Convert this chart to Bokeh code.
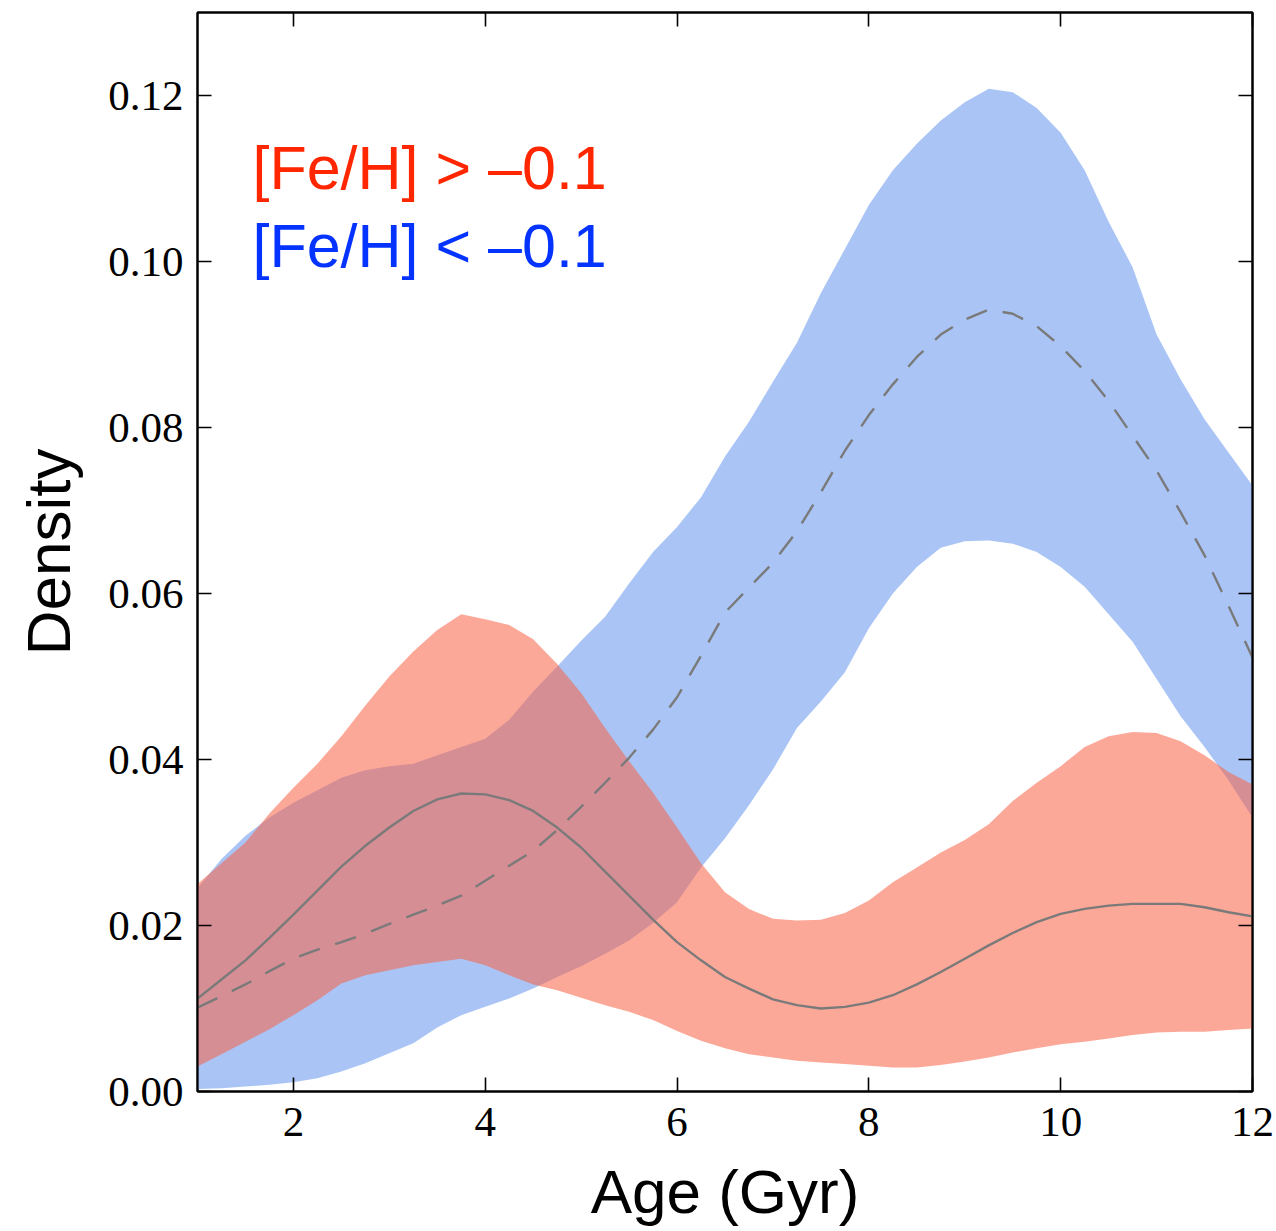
from bokeh.plotting import figure
from bokeh.models import Range1d, LinearAxis, FixedTicker, NumeralTickFormatter, Label
from bokeh.embed import file_html
from bokeh.resources import INLINE

# ---- data ----
age = [1.00, 1.25, 1.50, 1.75, 2.00, 2.25, 2.50, 2.75, 3.00, 3.25, 3.50, 3.75,
       4.00, 4.25, 4.50, 4.75, 5.00, 5.25, 5.50, 5.75, 6.00, 6.25, 6.50, 6.75,
       7.00, 7.25, 7.50, 7.75, 8.00, 8.25, 8.50, 8.75, 9.00, 9.25, 9.50, 9.75,
       10.00, 10.25, 10.50, 10.75, 11.00, 11.25, 11.50, 11.75, 12.00]

# metal-rich ([Fe/H] > -0.1): band and median
rich_upper = [0.0250, 0.0275, 0.0300, 0.0335, 0.0366, 0.0395, 0.0428, 0.0465, 0.0500, 0.0530, 0.0556, 0.0575,
              0.0569, 0.0562, 0.0545, 0.0515, 0.0480, 0.0438, 0.0398, 0.0360, 0.0318, 0.0275, 0.0240, 0.0220,
              0.0208, 0.0206, 0.0207, 0.0215, 0.0230, 0.0252, 0.0270, 0.0288, 0.0303, 0.0322, 0.0350, 0.0372,
              0.0392, 0.0415, 0.0428, 0.0433, 0.0432, 0.0422, 0.0405, 0.0385, 0.0370]
rich_lower = [0.0030, 0.0045, 0.0060, 0.0075, 0.0092, 0.0110, 0.0130, 0.0140, 0.0146, 0.0152, 0.0156, 0.0160,
              0.0152, 0.0140, 0.0129, 0.0122, 0.0113, 0.0104, 0.0096, 0.0086, 0.0073, 0.0061, 0.0052, 0.0045,
              0.0041, 0.0037, 0.0035, 0.0033, 0.0031, 0.0029, 0.0029, 0.0032, 0.0036, 0.0041, 0.0047, 0.0052,
              0.0057, 0.0060, 0.0064, 0.0068, 0.0071, 0.0072, 0.0072, 0.0074, 0.0076]
rich_mid = [0.0112, 0.0135, 0.0158, 0.0185, 0.0213, 0.0242, 0.0271, 0.0296, 0.0318, 0.0338, 0.0352, 0.0359,
            0.0358, 0.0351, 0.0338, 0.0318, 0.0294, 0.0265, 0.0236, 0.0207, 0.0180, 0.0158, 0.0138, 0.0124,
            0.0111, 0.0104, 0.0100, 0.0102, 0.0107, 0.0116, 0.0129, 0.0144, 0.0160, 0.0176, 0.0191, 0.0204,
            0.0214, 0.0220, 0.0224, 0.0226, 0.0226, 0.0226, 0.0222, 0.0216, 0.0211]

# metal-poor ([Fe/H] < -0.1): band and median
poor_upper = [0.0245, 0.0280, 0.0308, 0.0330, 0.0348, 0.0363, 0.0378, 0.0387, 0.0392, 0.0395, 0.0405, 0.0415,
              0.0425, 0.0448, 0.0482, 0.0512, 0.0543, 0.0572, 0.0612, 0.0650, 0.0680, 0.0716, 0.0765, 0.0807,
              0.0855, 0.0902, 0.0962, 0.1015, 0.1068, 0.1110, 0.1142, 0.1170, 0.1192, 0.1208, 0.1204, 0.1185,
              0.1155, 0.1110, 0.1048, 0.0993, 0.0912, 0.0858, 0.0810, 0.0770, 0.0730]
poor_lower = [0.0003, 0.0004, 0.0006, 0.0008, 0.0011, 0.0016, 0.0024, 0.0034, 0.0046, 0.0058, 0.0077, 0.0092,
              0.0102, 0.0112, 0.0124, 0.0138, 0.0151, 0.0166, 0.0182, 0.0203, 0.0228, 0.0270, 0.0305, 0.0345,
              0.0388, 0.0438, 0.0470, 0.0505, 0.0558, 0.0600, 0.0632, 0.0655, 0.0663, 0.0664, 0.0660, 0.0650,
              0.0632, 0.0608, 0.0575, 0.0542, 0.0497, 0.0452, 0.0415, 0.0375, 0.0330]
poor_mid = [0.0101, 0.0115, 0.0129, 0.0145, 0.0160, 0.0171, 0.0180, 0.0190, 0.0202, 0.0213, 0.0224, 0.0236,
            0.0254, 0.0272, 0.0290, 0.0315, 0.0343, 0.0372, 0.0402, 0.0436, 0.0475, 0.0525, 0.0577, 0.0607,
            0.0637, 0.0675, 0.0722, 0.0772, 0.0815, 0.0852, 0.0885, 0.0912, 0.0930, 0.0942, 0.0937, 0.0922,
            0.0898, 0.0868, 0.0832, 0.0790, 0.0748, 0.0698, 0.0646, 0.0585, 0.0523]

x_ticks = [2, 4, 6, 8, 10, 12]
y_ticks = [0.00, 0.02, 0.04, 0.06, 0.08, 0.10, 0.12]
label_rich = "[Fe/H] > \u20130.1"
label_poor = "[Fe/H] < \u20130.1"
x_title = "Age (Gyr)"
y_title = "Density"

# ---- figure ----
p = figure(width=1276, height=1231, x_range=Range1d(1, 12), y_range=Range1d(0, 0.13),
           output_backend="svg", toolbar_location=None,
           min_border_left=197, min_border_right=24, min_border_top=12, min_border_bottom=140)
p.xgrid.visible = False
p.ygrid.visible = False
p.outline_line_color = "black"
p.outline_line_width = 2
p.background_fill_color = "white"
p.border_fill_color = "white"

p.varea(x=age, y1=poor_lower, y2=poor_upper, fill_color="#6495ED", fill_alpha=0.55)
p.varea(x=age, y1=rich_lower, y2=rich_upper, fill_color="#FA6146", fill_alpha=0.55)
p.line(age, rich_mid, line_color="#7a7a7a", line_width=2.4)
p.line(age, poor_mid, line_color="#7a7a7a", line_width=2.4, line_dash="22 16")

xa = p.xaxis[0]
xa.ticker = FixedTicker(ticks=x_ticks)
ya = p.yaxis[0]
ya.ticker = FixedTicker(ticks=y_ticks)
ya.formatter = NumeralTickFormatter(format="0.00")
for ax in (xa, ya):
    ax.axis_line_width = 2
    ax.axis_line_color = "black"
    ax.major_tick_in = 14
    ax.major_tick_out = 0
    ax.major_tick_line_width = 1.6
    ax.major_tick_line_color = "black"
    ax.minor_tick_line_color = None
    ax.major_label_text_font = "Liberation Serif"
    ax.major_label_text_font_size = "43px"
    ax.major_label_text_color = "black"
    ax.axis_label_text_font = "Liberation Sans"
    ax.axis_label_text_font_size = "62px"
    ax.axis_label_text_font_style = "normal"
    ax.axis_label_text_color = "black"
xa.axis_label = x_title
ya.axis_label = y_title
xa.major_label_standoff = 16
ya.major_label_standoff = 14
xa.axis_label_standoff = 18
ya.axis_label_standoff = 22

top = LinearAxis(ticker=FixedTicker(ticks=x_ticks))
right = LinearAxis(ticker=FixedTicker(ticks=y_ticks))
for ax in (top, right):
    ax.axis_line_width = 2
    ax.axis_line_color = "black"
    ax.major_tick_in = 14
    ax.major_tick_out = 0
    ax.major_tick_line_width = 1.6
    ax.major_tick_line_color = "black"
    ax.minor_tick_line_color = None
    ax.major_label_text_font_size = "0px"
    ax.major_label_text_color = None
    ax.major_label_standoff = 0
p.add_layout(top, "above")
p.add_layout(right, "right")

# legend-like texts
p.add_layout(Label(x=1.573, y=0.1113, text=label_rich, text_font="Liberation Sans",
                   text_font_size="61px", text_color="#FF2600", text_baseline="alphabetic"))
p.add_layout(Label(x=1.573, y=0.1019, text=label_poor, text_font="Liberation Sans",
                   text_font_size="61px", text_color="#0433FF", text_baseline="alphabetic"))

open("out.html", "w").write(file_html(p, INLINE))
